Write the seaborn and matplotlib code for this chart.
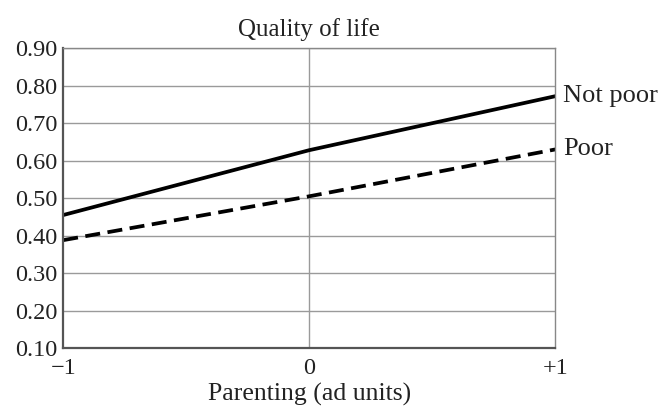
import matplotlib
matplotlib.use("Agg")
import matplotlib.pyplot as plt
import pandas as pd
import seaborn as sns

# values
parenting = [-1, 0, 1]
not_poor = [0.455, 0.628, 0.772]
poor = [0.388, 0.505, 0.630]
groups = ["Not poor", "Poor"]
y_ticks = [0.10, 0.20, 0.30, 0.40, 0.50, 0.60, 0.70, 0.80, 0.90]
x_tick_labels = ["\u22121", "0", "+1"]

df = pd.DataFrame({
    "Parenting": parenting * 2,
    "Quality": not_poor + poor,
    "Group": [groups[0]] * 3 + [groups[1]] * 3,
})

sns.set_style("white")
plt.rcParams["font.family"] = ["Liberation Serif", "DejaVu Serif"]

fig, ax = plt.subplots(figsize=(6.65, 4.12), dpi=100)
fig.subplots_adjust(left=0.095, right=0.835, top=0.883, bottom=0.155)

for y in y_ticks:
    ax.axhline(y, color="#9a9a9a", lw=1.0, zorder=0)
ax.axvline(0, color="#9a9a9a", lw=1.0, zorder=0)

sns.lineplot(
    data=df, x="Parenting", y="Quality", style="Group",
    dashes={"Not poor": "", "Poor": (4, 2)},
    color="black", lw=2.7, legend=False, ax=ax,
)

ax.set_xlim(-1, 1)
ax.set_ylim(0.10, 0.90)
ax.set_yticks(y_ticks)
ax.set_yticklabels([f"{v:.2f}" for v in y_ticks])
ax.set_xticks(parenting)
ax.set_xticklabels(x_tick_labels)
ax.tick_params(labelsize=17.5, length=0, colors="#222222")
ax.tick_params(axis="y", pad=4)
ax.tick_params(axis="x", pad=7)

for side in ["left", "bottom"]:
    ax.spines[side].set_color("#555555")
    ax.spines[side].set_linewidth(1.6)
for side in ["top", "right"]:
    ax.spines[side].set_color("#888888")
    ax.spines[side].set_linewidth(1.0)

ax.set_title("Quality of life", fontsize=18, pad=9, color="#222222")
ax.set_xlabel("Parenting (ad units)", fontsize=18.5, labelpad=3, color="#222222")
ax.set_ylabel("")

ax.text(1.016, not_poor[-1], groups[0], transform=ax.get_yaxis_transform(),
        fontsize=19, va="center", ha="left", color="#222222")
ax.text(1.016, poor[-1], groups[1], transform=ax.get_yaxis_transform(),
        fontsize=19, va="center", ha="left", color="#222222")

fig.savefig("out.png", dpi=100)
